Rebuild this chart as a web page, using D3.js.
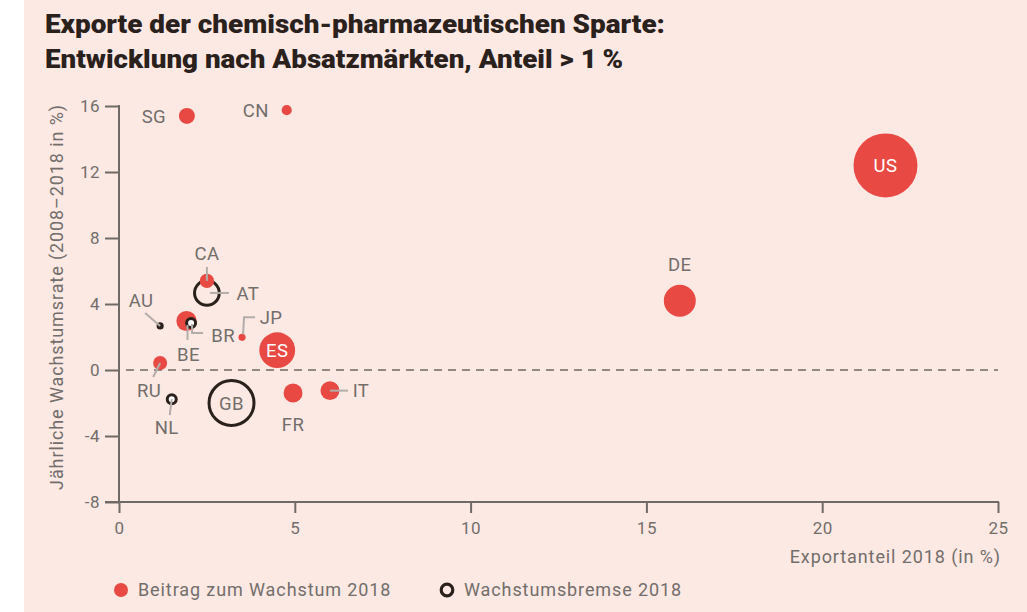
<!DOCTYPE html>
<html>
<head>
<meta charset="utf-8">
<script src="https://cdn.jsdelivr.net/npm/d3@7"></script>
<style>
  body { margin: 0; background: #ffffff; }
  svg text { font-family: Roboto, "Noto Sans", sans-serif; }
</style>
</head>
<body>
<div id="mainDiv"></div>
<script>
'use strict';

// Daten
var laender      = ['US', 'GB', 'ES', 'DE', 'AT', 'BE', 'FR', 'IT', 'SG', 'CA', 'RU', 'BR', 'NL', 'CN', 'AU', 'JP'];
var exportanteil = [21.8, 3.2, 4.5, 15.95, 2.5, 1.92, 4.95, 6.0, 1.93, 2.5, 1.17, 2.05, 1.5, 4.77, 1.17, 3.5];
var wachstum     = [12.4, -2.0, 1.2, 4.2, 4.67, 2.97, -1.39, -1.25, 15.4, 5.4, 0.42, 2.85, -1.77, 15.75, 2.67, 1.98];
var gewicht      = [1.6, 0.9, 0.5, 0.4, 0.3, 0.16, 0.14, 0.14, 0.1, 0.08, 0.077, 0.056, 0.056, 0.04, 0.02, 0.02];
var typ          = ['beitrag', 'bremse', 'beitrag', 'beitrag', 'bremse', 'beitrag', 'beitrag', 'beitrag',
                    'beitrag', 'beitrag', 'beitrag', 'bremse', 'bremse', 'beitrag', 'bremse', 'beitrag'];

var xTicks = [0, 5, 10, 15, 20, 25];
var yTicks = [-8, -4, 0, 4, 8, 12, 16];

var titelZeilen  = ['Exporte der chemisch-pharmazeutischen Sparte:', 'Entwicklung nach Absatzmärkten, Anteil > 1\u2009%'];
var xTitel       = 'Exportanteil 2018 (in %)';
var yTitel       = 'Jährliche Wachstumsrate (2008–2018 in %)';
var legendeTexte = ['Beitrag zum Wachstum 2018', 'Wachstumsbremse 2018'];

// Beschriftungs-Layout: Versatz zum Kreismittelpunkt, Hinweislinie relativ
var labelPos = {
    US: {dx: 0, dy: 0, color: '#ffffff'},
    ES: {dx: 0, dy: 0, color: '#ffffff'},
    GB: {dx: 0, dy: 0},
    DE: {dx: 0, dy: -36},
    SG: {dx: -33, dy: 0},
    CN: {dx: -31, dy: 0},
    CA: {dx: 0, dy: -28, leader: [[0, -14], [0, 0]]},
    AT: {dx: 41, dy: 0, leader: [[3, 0], [22, 0]]},
    AU: {dx: -19, dy: -26, leader: [[-15, -13], [0, 0]]},
    BE: {dx: 2, dy: 33, leader: [[1, 4], [1, 19]]},
    BR: {dx: 32, dy: 12, leader: [[1, 1], [1, 10], [12, 10]]},
    JP: {dx: 29, dy: -20, leader: [[1, -3], [2, -20], [13, -20]]},
    RU: {dx: -11, dy: 27, leader: [[0, 0], [-7, 14]]},
    NL: {dx: -5, dy: 28, leader: [[0, 0], [-2, 16]]},
    FR: {dx: 0, dy: 31},
    IT: {dx: 31, dy: 0, leader: [[0, 0], [18, 0]]}
};

var bubbleChart = {};

bubbleChart.width  = 1027;
bubbleChart.height = 612;

bubbleChart.colors = {
    bg: '#fde9e4',
    red: '#e84a43',
    dark: '#2b211c',
    axis: '#6f6a66',
    text: '#736e6a',
    leader: '#b3adaa'
};

bubbleChart.xScale = d3.scaleLinear().domain([0, 25]).range([119, 998]);
bubbleChart.yScale = d3.scaleLinear().domain([-8, 16]).range([502, 106]);
bubbleChart.rScale = d3.scaleSqrt().domain([0, 1.6]).range([0, 32]);

bubbleChart.appendSVG = function(DOMObj){
    var svg = d3.select(DOMObj)
                .append('svg')
                .attr('width', bubbleChart.width)
                .attr('height', bubbleChart.height);

    svg.append('rect')
        .attr('x', 24).attr('y', 0)
        .attr('width', bubbleChart.width - 24)
        .attr('height', bubbleChart.height)
        .attr('fill', bubbleChart.colors.bg);
    return svg;
}

bubbleChart.drawTitle = function(svg){
    var widths = [620, 578];
    svg.selectAll('text.titel')
        .data(titelZeilen)
        .enter().append('text')
        .attr('class', 'titel')
        .attr('x', 45)
        .attr('y', function(d, i){ return 33 + i * 35; })
        .attr('textLength', function(d, i){ return widths[i]; })
        .attr('lengthAdjust', 'spacingAndGlyphs')
        .attr('font-size', 25)
        .attr('font-weight', 900)
        .attr('fill', bubbleChart.colors.dark)
        .text(function(d){ return d; });
}

bubbleChart.drawAxes = function(svg){
    var x = bubbleChart.xScale, y = bubbleChart.yScale, c = bubbleChart.colors;
    var fmt = function(d){ return String(d); };

    var xAxis = d3.axisBottom(x).tickValues(xTicks).tickFormat(fmt).tickSize(11).tickPadding(9);
    var gx = svg.append('g').attr('transform', 'translate(0,' + y(-8) + ')').call(xAxis);

    var yAxis = d3.axisLeft(y).tickValues(yTicks).tickFormat(fmt).tickSize(14).tickPadding(5);
    var gy = svg.append('g').attr('transform', 'translate(' + x(0) + ',0)').call(yAxis);

    [gx, gy].forEach(function(g){
        g.select('.domain').remove();
        g.selectAll('line').attr('stroke', c.axis).attr('stroke-width', 2);
        g.selectAll('text')
            .attr('fill', c.text)
            .attr('font-size', 17)
            .style('letter-spacing', '0.5px')
            .style('font-family', 'Roboto, sans-serif');
    });

    // Nulllinie gestrichelt
    svg.append('line')
        .attr('x1', x(0)).attr('x2', x(25))
        .attr('y1', y(0)).attr('y2', y(0))
        .attr('stroke', c.axis)
        .attr('stroke-width', 1.6)
        .attr('stroke-dasharray', '8,6')
        .attr('stroke-dashoffset', -7);

    // Achsenlinien
    svg.append('line')
        .attr('x1', x(0) - 14).attr('x2', x(25) + 1)
        .attr('y1', y(-8)).attr('y2', y(-8))
        .attr('stroke', c.axis).attr('stroke-width', 2);
    svg.append('line')
        .attr('x1', x(0)).attr('x2', x(0))
        .attr('y1', y(16) - 1).attr('y2', y(-8))
        .attr('stroke', c.axis).attr('stroke-width', 2);

    svg.append('text')
        .attr('x', 1001).attr('y', 563)
        .attr('text-anchor', 'end')
        .attr('font-size', 18)
        .style('letter-spacing', '0.9px')
        .attr('fill', c.text)
        .text(xTitel);

    svg.append('text')
        .attr('transform', 'translate(63,297) rotate(-90)')
        .attr('text-anchor', 'middle')
        .attr('font-size', 18)
        .style('letter-spacing', '0.9px')
        .attr('fill', c.text)
        .text(yTitel);
}

bubbleChart.drawBubbles = function(svg){
    var x = bubbleChart.xScale, y = bubbleChart.yScale, r = bubbleChart.rScale, c = bubbleChart.colors;

    var data = laender.map(function(land, i){
        return {land: land, x: exportanteil[i], y: wachstum[i], w: gewicht[i], typ: typ[i]};
    });

    svg.append('g').selectAll('circle')
        .data(data)
        .enter().append('circle')
        .attr('cx', function(d){ return x(d.x); })
        .attr('cy', function(d){ return y(d.y); })
        .attr('r', function(d){ return d.typ === 'bremse' ? Math.max(r(d.w) - 1.5, 2) : r(d.w); })
        .attr('fill', function(d){
            if (d.typ === 'beitrag') return c.red;
            return r(d.w) < 5 ? c.dark : (r(d.w) < 8 ? '#ffffff' : 'none');
        })
        .attr('stroke', function(d){ return d.typ === 'bremse' ? c.dark : 'none'; })
        .attr('stroke-width', 3);

    // Hinweislinien
    var line = d3.line();
    svg.append('g').selectAll('path')
        .data(data.filter(function(d){ return labelPos[d.land].leader; }))
        .enter().append('path')
        .attr('d', function(d){
            var cx = x(d.x), cy = y(d.y);
            return line(labelPos[d.land].leader.map(function(p){ return [cx + p[0], cy + p[1]]; }));
        })
        .attr('fill', 'none')
        .attr('stroke', c.leader)
        .attr('stroke-width', 2);

    svg.append('g').selectAll('text')
        .data(data)
        .enter().append('text')
        .attr('x', function(d){ return x(d.x) + labelPos[d.land].dx; })
        .attr('y', function(d){ return y(d.y) + labelPos[d.land].dy; })
        .attr('dy', '0.36em')
        .attr('text-anchor', 'middle')
        .attr('font-size', 18.5)
        .style('letter-spacing', '0.4px')
        .attr('fill', function(d){ return labelPos[d.land].color || c.text; })
        .text(function(d){ return d.land; });
}

bubbleChart.drawLegend = function(svg){
    var c = bubbleChart.colors;
    var lx = [121, 447];
    var g = svg.append('g');

    g.append('circle').attr('cx', lx[0]).attr('cy', 590).attr('r', 7).attr('fill', c.red);
    g.append('circle').attr('cx', lx[1]).attr('cy', 590).attr('r', 5.8)
        .attr('fill', 'none').attr('stroke', c.dark).attr('stroke-width', 3.2);

    g.selectAll('text')
        .data(legendeTexte)
        .enter().append('text')
        .attr('x', function(d, i){ return lx[i] + 17; })
        .attr('y', 590)
        .attr('dy', '0.36em')
        .attr('font-size', 18)
        .style('letter-spacing', '0.9px')
        .attr('fill', c.text)
        .text(function(d){ return d; });
}

bubbleChart.start = function(){
    var svg = bubbleChart.appendSVG('#mainDiv');
    bubbleChart.drawTitle(svg);
    bubbleChart.drawAxes(svg);
    bubbleChart.drawBubbles(svg);
    bubbleChart.drawLegend(svg);
}

window.onload = bubbleChart.start;
</script>
</body>
</html>
